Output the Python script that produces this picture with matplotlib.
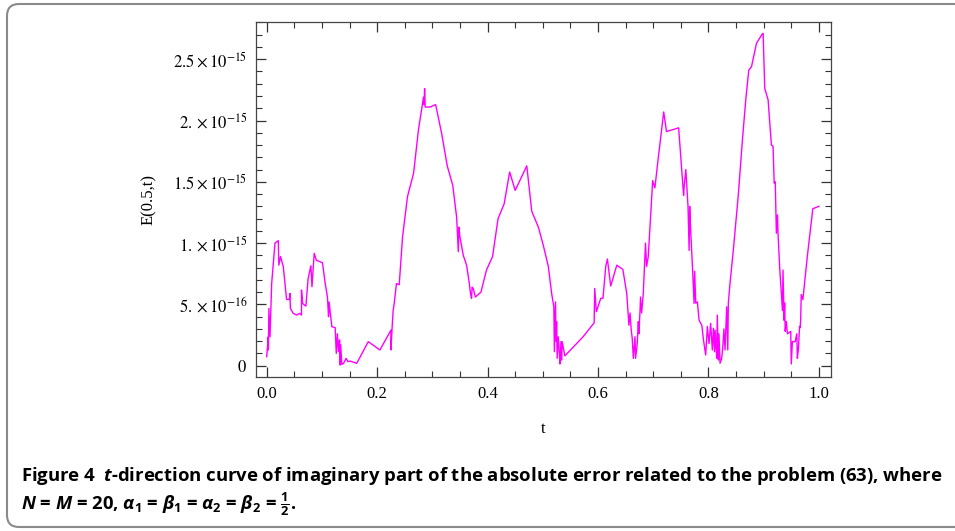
import matplotlib
matplotlib.use('Agg')
import matplotlib.pyplot as plt
from matplotlib.patches import FancyBboxPatch
from matplotlib.transforms import IdentityTransform
from matplotlib.ticker import FixedLocator, MultipleLocator

plt.rcParams['font.family'] = ['Liberation Serif', 'DejaVu Serif']
plt.rcParams['mathtext.fontset'] = 'custom'
plt.rcParams['mathtext.rm'] = 'Open Sans:bold'
plt.rcParams['mathtext.it'] = 'Open Sans:italic:bold'
plt.rcParams['mathtext.bf'] = 'Open Sans:bold'

# t values and error (in units of 1e-16)
t = [0.000, 0.003, 0.003, 0.004, 0.006, 0.009, 0.015, 0.021, 0.022, 0.025,
     0.030, 0.036, 0.041, 0.042, 0.043, 0.048, 0.054, 0.060, 0.063, 0.063,
     0.065, 0.071, 0.075, 0.080, 0.082, 0.086, 0.090, 0.101, 0.106, 0.110,
     0.112, 0.113, 0.118, 0.124, 0.126, 0.128, 0.130, 0.132, 0.133, 0.134,
     0.136, 0.139, 0.144, 0.147, 0.151, 0.163, 0.184, 0.205, 0.225, 0.225,
     0.227, 0.229, 0.231, 0.235, 0.240, 0.246, 0.255, 0.266, 0.275, 0.284,
     0.285, 0.286, 0.287, 0.290, 0.296, 0.306, 0.317, 0.327, 0.337, 0.344,
     0.347, 0.348, 0.350, 0.356, 0.362, 0.367, 0.369, 0.371, 0.372, 0.374,
     0.378, 0.388, 0.398, 0.409, 0.419, 0.430, 0.440, 0.450, 0.471, 0.480,
     0.492, 0.501, 0.510, 0.516, 0.520, 0.521, 0.523, 0.524, 0.525, 0.526,
     0.528, 0.530, 0.531, 0.533, 0.534, 0.535, 0.540, 0.573, 0.593, 0.594,
     0.597, 0.605, 0.609, 0.614, 0.617, 0.623, 0.634, 0.645, 0.652, 0.656,
     0.658, 0.660, 0.662, 0.664, 0.667, 0.668, 0.671, 0.673, 0.674, 0.676,
     0.677, 0.679, 0.682, 0.686, 0.688, 0.691, 0.699, 0.703, 0.709, 0.719,
     0.724, 0.746, 0.755, 0.756, 0.759, 0.763, 0.765, 0.766, 0.767, 0.771,
     0.774, 0.775, 0.777, 0.780, 0.783, 0.788, 0.791, 0.795, 0.798, 0.801,
     0.804, 0.807, 0.809, 0.811, 0.812, 0.815, 0.816, 0.818, 0.819, 0.821,
     0.824, 0.826, 0.828, 0.830, 0.833, 0.835, 0.836, 0.839, 0.845, 0.854,
     0.862, 0.868, 0.873, 0.878, 0.887, 0.898, 0.899, 0.902, 0.908, 0.914,
     0.917, 0.919, 0.921, 0.923, 0.925, 0.926, 0.929, 0.934, 0.935, 0.937,
     0.938, 0.939, 0.941, 0.943, 0.949, 0.950, 0.952, 0.957, 0.960, 0.961,
     0.963, 0.965, 0.966, 0.967, 0.968, 0.971, 0.979, 0.989, 1.000]
err = [0.73, 2.36, 1.28, 4.67, 2.36, 6.7, 10.0, 10.2, 8.2, 8.9,
       8.1, 5.4, 5.4, 5.9, 4.67, 4.27, 4.13, 4.27, 4.13, 6.17,
       5.08, 4.86, 7.1, 8.15, 6.44, 9.16, 8.6, 8.4, 6.7, 5.6,
       4.0, 5.2, 3.18, 3.1, 1.0, 2.6, 1.15, 2.1, 0.05, 1.7,
       0.1, 0.19, 0.6, 0.33, 0.38, 0.19, 1.96, 1.28, 2.9, 1.28,
       3.0, 4.5, 5.1, 6.7, 6.6, 10.5, 13.8, 15.7, 19.3, 21.9,
       21.3, 22.6, 21.1, 21.1, 21.1, 21.3, 18.9, 16.3, 14.7, 12.1,
       9.3, 11.3, 10.5, 9.0, 8.2, 6.7, 5.9, 5.5, 6.4, 6.3,
       5.6, 6.0, 7.8, 8.9, 12.0, 13.2, 15.8, 14.3, 16.3, 12.6,
       11.3, 9.8, 8.1, 5.9, 4.8, 1.14, 5.2, 2.0, 3.6, 0.6,
       2.36, 1.0, 0.14, 1.96, 0.46, 1.96, 0.8, 2.36, 3.5, 6.3,
       4.4, 5.5, 5.5, 8.1, 8.7, 6.5, 8.2, 7.85, 5.9, 3.3,
       4.3, 3.0, 2.2, 0.6, 2.36, 0.6, 1.8, 3.6, 2.6, 4.4,
       5.6, 4.3, 5.9, 10.0, 8.1, 8.9, 15.1, 14.5, 16.9, 20.7,
       19.1, 19.4, 13.9, 14.6, 16.0, 13.0, 9.4, 13.0, 11.8, 8.1,
       5.08, 7.7, 5.1, 5.2, 3.7, 3.3, 2.1, 0.87, 3.2, 1.8,
       3.45, 1.28, 3.05, 1.14, 2.9, 0.6, 4.13, 0.46, 2.6, 0.2,
       0.6, 1.55, 3.0, 1.28, 4.8, 1.28, 5.1, 6.7, 9.4, 13.9,
       18.7, 21.9, 24.1, 24.4, 26.3, 27.1, 27.1, 22.6, 21.7, 18.0,
       17.9, 14.9, 15.0, 10.8, 12.3, 10.8, 8.0, 4.5, 7.8, 3.7,
       5.1, 2.8, 3.6, 2.6, 2.8, 0.14, 1.96, 1.96, 2.6, 0.6,
       1.4, 3.2, 3.1, 3.7, 5.8, 5.4, 8.9, 12.8, 13.0]
err = [e * 1e-16 for e in err]

ytick_vals = [0, 5e-16, 1e-15, 1.5e-15, 2e-15, 2.5e-15]
ytick_labels = ['$0$', r'$5.\times10^{-16}$', r'$1.\times10^{-15}$',
                r'$1.5\times10^{-15}$', r'$2.\times10^{-15}$', r'$2.5\times10^{-15}$']
xtick_vals = [0.0, 0.2, 0.4, 0.6, 0.8, 1.0]

fig = plt.figure(figsize=(9.55, 5.31), dpi=100)
ax = fig.add_axes([0.2677, 0.2894, 0.6025, 0.6697])
ax.plot(t, err, color='#ff00ff', lw=1.0)
ax.set_xlim(-0.02, 1.022)
ax.set_ylim(-0.095e-15, 2.806e-15)

ax.xaxis.set_major_locator(FixedLocator(xtick_vals))
ax.set_xticklabels(['%.1f' % v for v in xtick_vals])
ax.xaxis.set_minor_locator(MultipleLocator(0.05))
ax.yaxis.set_major_locator(FixedLocator(ytick_vals))
ax.set_yticklabels(ytick_labels, math_fontfamily='stix')
ax.yaxis.set_minor_locator(MultipleLocator(1e-16))
ax.tick_params(which='both', direction='in', top=True, right=True,
               color='#333333', labelsize=12, pad=6)
ax.tick_params(which='major', length=7, width=0.9)
ax.tick_params(which='minor', length=4, width=0.8)
for s in ax.spines.values():
    s.set_color('#444444')
    s.set_linewidth(0.9)

ax.set_ylabel('E(0.5,t)', fontsize=12, labelpad=12)
ax.set_xlabel('t', fontsize=12, labelpad=14)

# outer rounded frame
box = FancyBboxPatch((7, 4), 1000, 523, boxstyle='round,pad=0,rounding_size=12',
                     transform=IdentityTransform(), fill=False,
                     edgecolor='#8a8a8a', lw=1.5)
fig.add_artist(box)

fig.text(21 / 955, 1 - 476 / 531,
         r'Figure 4  $t$-direction curve of imaginary part of the absolute error related to the problem (63), where',
         fontsize=13.3, fontweight='bold', family='Open Sans', math_fontfamily='custom',
         va='center', ha='left')
fig.text(21 / 955, 1 - 504 / 531,
         r'$N$ = $M$ = 20, $\alpha_1$ = $\beta_1$ = $\alpha_2$ = $\beta_2$ = $\frac{1}{2}$.',
         fontsize=13.3, fontweight='bold', family='Open Sans', math_fontfamily='custom',
         va='center', ha='left')

fig.savefig('out.png', dpi=100)
